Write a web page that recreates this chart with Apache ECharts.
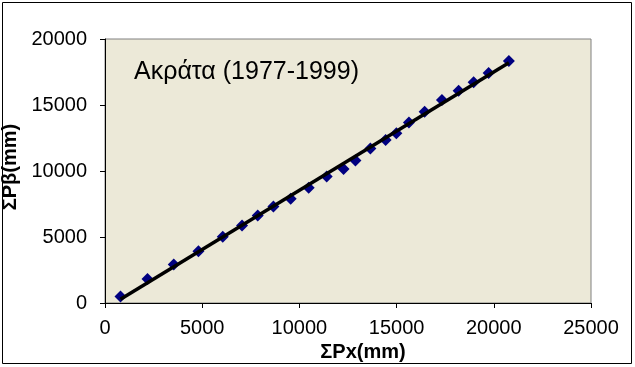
<!DOCTYPE html>
<html>
<head>
<meta charset="utf-8">
<script src="https://cdn.jsdelivr.net/npm/echarts@6/dist/echarts.min.js"></script>
<style>
html,body{margin:0;padding:0;background:#fff;}
#c{width:635px;height:367px;}
</style>
</head>
<body>
<div id="c"></div>
<script>
// Cumulative precipitation, Ακράτα (1977-1999)
var sumPx = [797, 2185, 3537, 4807, 6057, 7049, 7856, 8663, 9553, 10478, 11404, 12272, 12884, 13650, 14437, 14987, 15635, 16442, 17332, 18190, 18962, 19733, 20776];
var sumPb = [500, 1824, 2910, 3921, 5015, 5874, 6634, 7318, 7903, 8739, 9574, 10160, 10790, 11702, 12356, 12865, 13678, 14483, 15372, 16079, 16717, 17424, 18336];
var xTicks = [0, 5000, 10000, 15000, 20000, 25000];
var yTicks = [0, 5000, 10000, 15000, 20000];
var titleText = 'Ακράτα (1977-1999)';
var xName = 'ΣPx(mm)';
var yName = 'ΣPβ(mm)';

var points = sumPx.map(function (x, i) { return [x, sumPb[i]]; });

// linear trendline (least squares) over data range
var n = sumPx.length, sx = 0, sy = 0, sxx = 0, sxy = 0;
for (var i = 0; i < n; i++) { sx += sumPx[i]; sy += sumPb[i]; sxx += sumPx[i] * sumPx[i]; sxy += sumPx[i] * sumPb[i]; }
var slope = (n * sxy - sx * sy) / (n * sxx - sx * sx);
var icpt = (sy - slope * sx) / n;
var xmin = Math.min.apply(null, sumPx), xmax = Math.max.apply(null, sumPx);
var trend = [[xmin, icpt + slope * xmin], [xmax, icpt + slope * xmax]];

var font = '"Liberation Sans", Arial, sans-serif';
var plain = function (v) { return String(v); };
var chart = echarts.init(document.getElementById('c'), null, {renderer: 'canvas'});
chart.setOption({
  animation: false,
  backgroundColor: '#ffffff',
  grid: {left: 105, right: 44, top: 39, bottom: 64, containLabel: false, outerBoundsMode: 'none', show: true, backgroundColor: '#ECE9D8', borderColor: '#808080', borderWidth: 1},
  graphic: [
    {type: 'rect', shape: {x: 2.5, y: 2.5, width: 629, height: 361}, style: {fill: 'none', stroke: '#000', lineWidth: 1}, z: 100},
    {type: 'text', left: 134, top: 60, style: {text: titleText, font: '25px ' + font, fill: '#000'}, z: 100}
  ],
  xAxis: {
    type: 'value', min: xTicks[0], max: xTicks[xTicks.length - 1], interval: 5000,
    name: xName, nameLocation: 'middle', nameGap: 26,
    nameTextStyle: {fontFamily: font, fontSize: 20, fontWeight: 'bold', color: '#000', padding: [0, 0, 0, 30]},
    axisLine: {show: true, onZero: false, lineStyle: {color: '#000', width: 1}},
    axisTick: {show: true, inside: false, length: 5, lineStyle: {color: '#000'}},
    axisLabel: {fontFamily: font, fontSize: 20, color: '#000', margin: 15, formatter: plain},
    splitLine: {show: false}
  },
  yAxis: {
    type: 'value', min: yTicks[0], max: yTicks[yTicks.length - 1], interval: 5000,
    name: yName, nameLocation: 'middle', nameGap: 69,
    nameTextStyle: {fontFamily: font, fontSize: 20, fontWeight: 'bold', color: '#000', padding: [0, 0, 0, 8]},
    axisLine: {show: true, onZero: false, lineStyle: {color: '#000', width: 1}},
    axisTick: {show: true, inside: false, length: 5, lineStyle: {color: '#000'}},
    axisLabel: {fontFamily: font, fontSize: 20, color: '#000', margin: 18, formatter: plain},
    splitLine: {show: false}
  },
  series: [
    {type: 'scatter', data: points, symbol: 'diamond', symbolSize: 12, itemStyle: {color: '#000080', opacity: 1}, z: 2},
    {type: 'line', data: trend, showSymbol: false, symbol: 'none', lineStyle: {color: '#000', width: 3.5}, z: 3}
  ]
});
</script>
</body>
</html>
